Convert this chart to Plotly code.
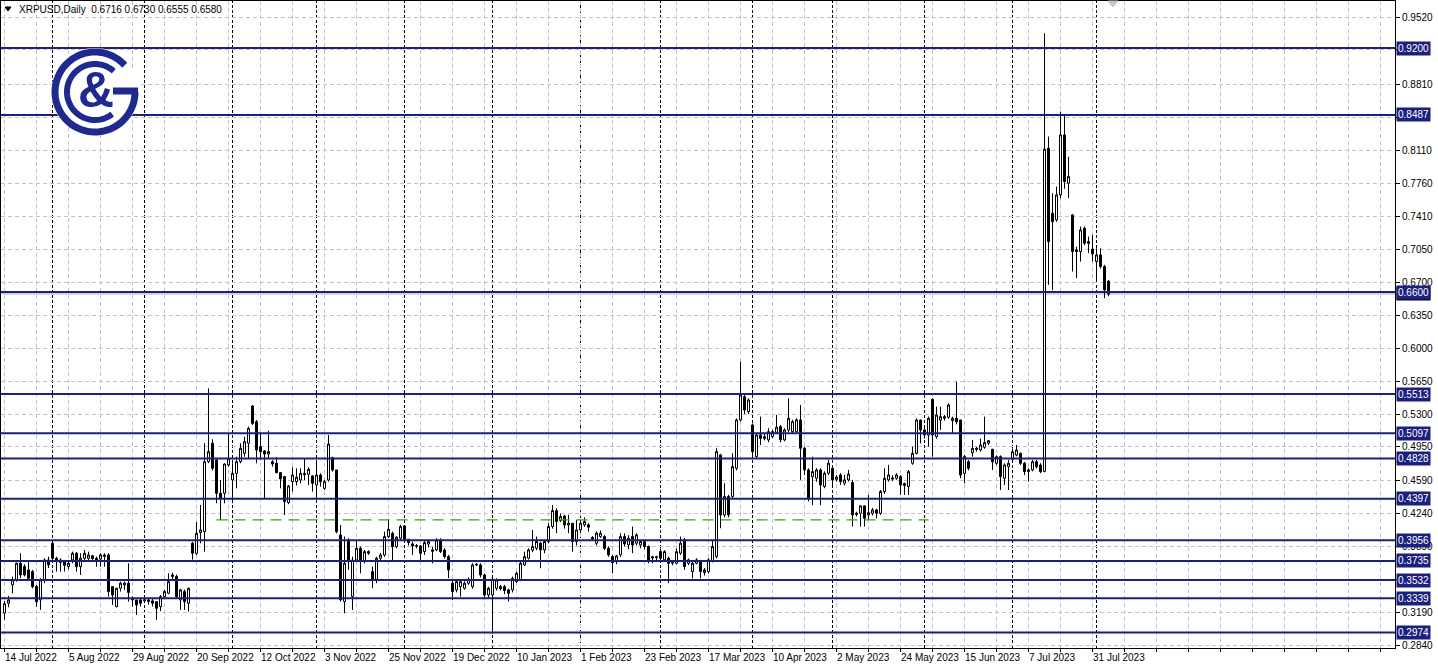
import math
import pandas as pd
import plotly.graph_objects as go

# ---------------- data (XRPUSD daily, weekday bars) ----------------
open_ = [
 .318, .3285, .3480, .3533, .3711, .3675, .3640, .3622, .3462, .3320,
 .3533, .3746, .3924, .3764, .3746, .3728, .3675, .3746, .3817, .3675,
 .3764, .3764, .3790, .3764, .3755, .3799, .3799, .3462, .3249, .3444,
 .3480, .3498, .3340, .3320, .3320, .3310, .3320, .3310, .3302, .3249,
 .3356, .3391, .3569, .3569, .3320, .3409, .3285, .3924, .3817, .4038,
 .4048, .4793, .4989, .4811, .4456, .4456, .4758, .4598, .4669, .4793,
 .4882, .4989, .5386, .5219, .4953, .4907, .4875, .4793, .4776, .4676,
 .4634, .4357, .4580, .4580, .4598, .4669, .4658, .4641, .4545, .4651,
 .4509, .4598, .4836, .4705, .4012, .3302, .3959, .3356, .3746, .3870,
 .3728, .3835, .3622, .3540, .3764, .3799, .3995, .4030, .3888, .3977,
 .4108, .3966, .3917, .3900, .3895, .3835, .3915, .3853, .3853, .3959,
 .3853, .3782, .3498, .3427, .3462, .3444, .3498, .3462, .3693, .3693,
 .3586, .3373, .3373, .3444, .3462, .3462, .3427, .3427, .3515, .3533,
 .3693, .3764, .3850, .3871, .3924, .3853, .3942, .4102, .4272, .4165,
 .4215, .4119, .4137, .3942, .4066, .4120, .4120, .3985, .3924, .3995,
 .3995, .3871, .3782, .3729, .3800, .3995, .3906, .3995, .3924, .3906,
 .3942, .3889, .3780, .3770, .3835, .3747, .3764, .3711, .3711, .3818,
 .3960, .3711, .3622, .3711, .3729, .3640, .3622, .3729, .3782, .4865,
 .4226, .4421, .4421, .4723, .5238, .5486, .5326, .5184, .4847, .5078,
 .5040, .5025, .5060, .5105, .5167, .5025, .5131, .5113, .5113, .5238,
 .4936, .4705, .4634, .4616, .4705, .4528, .4670, .4723, .4605, .4652,
 .4563, .4599, .4570, .4230, .4244, .4322, .4226, .4244, .4279, .4244,
 .4475, .4599, .4620, .4616, .4634, .4560, .4528, .4776, .4882, .5237,
 .5131, .5077, .5457, .5060, .5237, .5255, .5266, .5230, .5255, .5237,
 .4669, .4793, .4889, .4935, .4918, .4946, .4989, .4925, .4776, .4847,
 .4616, .4740, .4818, .4864, .4882, .4776, .4705, .4705, .4793, .4758,
 .4689, .8132, .7440, .7369, .7635, .8274, .7759, .7422, .7050, .7032,
 .7280, .7138, .7057, .6925, .6996, .6872, .6716]

high = [
 .331, .3363, .3569, .3718, .3817, .3700, .3728, .3640, .3480, .3551,
 .3764, .3781, .3942, .3780, .3764, .3746, .3728, .3835, .3830, .3817,
 .3852, .3835, .3800, .3781, .3817, .3817, .3817, .3462, .3450, .3515,
 .3515, .3711, .3356, .3320, .3338, .3338, .3340, .3330, .3302, .3373,
 .3427, .3604, .3610, .3590, .3440, .3430, .3450, .3940, .4150, .4332,
 .4989, .5574, .5031, .4830, .4598, .4776, .5095, .4776, .4846, .4989,
 .5060, .5166, .5397, .5237, .5095, .4917, .5123, .4810, .4840, .4683,
 .4641, .4545, .4733, .4722, .4722, .4829, .4733, .4651, .4811, .4669,
 .4598, .5077, .4846, .4705, .4119, .3995, .3977, .3782, .3959, .3888,
 .3853, .3850, .3675, .3780, .3820, .4048, .4179, .4048, .4000, .4119,
 .4119, .3970, .3940, .3915, .3906, .3950, .3960, .3888, .3977, .3977,
 .3870, .3800, .3533, .3530, .3533, .3520, .3560, .3711, .3711, .3711,
 .3600, .3460, .3560, .3551, .3480, .3480, .3440, .3569, .3620, .3728,
 .3835, .3870, .4066, .3995, .3940, .3960, .4137, .4332, .4297, .4240,
 .4226, .4226, .4137, .4173, .4173, .4200, .4137, .4000, .4050, .4060,
 .4010, .3890, .3800, .3800, .4031, .4031, .4010, .4102, .4031, .3960,
 .3960, .3900, .3790, .3790, .3870, .3850, .3782, .3740, .3870, .3995,
 .3980, .3760, .3729, .3764, .3747, .3660, .3764, .3960, .4936, .4876,
 .4563, .4439, .4883, .5255, .5859, .5522, .5468, .5200, .5096, .5273,
 .5090, .5149, .5131, .5291, .5184, .5149, .5468, .5240, .5255, .5397,
 .4953, .4723, .4847, .4723, .4723, .4690, .4812, .4741, .4650, .4670,
 .4652, .4705, .4599, .4260, .4330, .4330, .4439, .4300, .4290, .4492,
 .4723, .4759, .4650, .4670, .4650, .4570, .4705, .4953, .5255, .5240,
 .5150, .5273, .5468, .5380, .5380, .5290, .5415, .5273, .5645, .5240,
 .4865, .4811, .5024, .4950, .5040, .5273, .5024, .4930, .4860, .4860,
 .4776, .4811, .4935, .4971, .4889, .4790, .4722, .4811, .4811, .4776,
 .9357, .8257, .7653, .7724, .8523, .8487, .8043, .7430, .7085, .7298,
 .7298, .7191, .7209, .7067, .7067, .6890, .6730]

low = [
 .311, .3242, .3391, .3515, .3551, .3570, .3533, .3444, .3249, .3214,
 .3498, .3660, .3746, .3622, .3622, .3622, .3650, .3711, .3622, .3586,
 .3746, .3728, .3740, .3675, .3675, .3675, .3356, .3267, .3240, .3409,
 .3427, .3302, .3249, .3160, .3250, .3285, .3270, .3250, .3107, .3200,
 .3330, .3380, .3540, .3340, .3214, .3214, .3196, .3750, .3800, .3924,
 .3835, .4776, .4700, .4350, .4172, .4350, .4740, .4350, .4509, .4776,
 .4846, .4829, .5184, .4776, .4811, .4403, .4829, .4740, .4669, .4509,
 .4225, .4340, .4474, .4540, .4563, .4598, .4545, .4474, .4438, .4527,
 .4492, .4580, .4687, .4030, .3302, .3178, .3640, .3214, .3728, .3604,
 .3710, .3800, .3444, .3498, .3740, .3780, .3980, .3728, .3870, .3960,
 .3940, .3900, .3800, .3870, .3728, .3800, .3880, .3710, .3840, .3820,
 .3760, .3551, .3320, .3400, .3356, .3430, .3480, .3440, .3680, .3560,
 .3340, .3340, .2960, .3420, .3420, .3380, .3302, .3400, .3500, .3520,
 .3680, .3750, .3830, .3850, .3658, .3818, .3924, .4080, .4031, .4150,
 .4080, .4031, .3835, .3900, .4040, .4100, .4048, .3950, .3900, .3980,
 .3850, .3780, .3605, .3700, .3780, .3890, .3860, .3818, .3900, .3870,
 .3860, .3711, .3711, .3730, .3740, .3730, .3498, .3690, .3700, .3800,
 .3640, .3690, .3551, .3700, .3551, .3580, .3600, .3720, .3764, .4084,
 .4200, .4200, .4400, .4700, .5220, .5300, .5300, .4865, .4829, .4971,
 .5020, .5000, .5042, .5090, .5000, .5010, .5110, .5090, .5090, .4599,
 .4650, .4370, .4330, .4580, .4330, .4510, .4650, .4545, .4580, .4545,
 .4540, .4580, .4102, .4210, .4102, .4102, .4173, .4220, .4190, .4226,
 .4450, .4580, .4590, .4600, .4439, .4439, .4439, .4760, .4870, .4989,
 .5040, .4953, .4847, .5040, .5131, .5230, .5250, .5095, .5190, .4616,
 .4563, .4700, .4847, .4900, .4900, .4930, .4970, .4705, .4760, .4491,
 .4545, .4491, .4800, .4850, .4758, .4651, .4580, .4690, .4720, .4670,
 .4680, .6677, .6621, .7350, .7600, .7700, .7600, .6819, .6748, .6925,
 .7100, .7014, .6925, .6730, .6850, .6535, .6555]

close = [
 .328, .3320, .3533, .3711, .3586, .3586, .3551, .3462, .3302, .3533,
 .3746, .3693, .3764, .3740, .3720, .3690, .3711, .3817, .3675, .3764,
 .3817, .3799, .3760, .3740, .3799, .3785, .3409, .3373, .3444, .3498,
 .3500, .3400, .3320, .3267, .3285, .3320, .3305, .3285, .3231, .3356,
 .3409, .3515, .3586, .3356, .3427, .3302, .3444, .3817, .4030, .4066,
 .4793, .4900, .4722, .4456, .4403, .4768, .4829, .4669, .4793, .4935,
 .5006, .5148, .5201, .4917, .4900, .4875, .4900, .4768, .4676, .4609,
 .4367, .4534, .4651, .4627, .4669, .4655, .4712, .4563, .4651, .4580,
 .4580, .4981, .4705, .4048, .3320, .3711, .3728, .3746, .3870, .3728,
 .3835, .3817, .3533, .3764, .3799, .3995, .4073, .3888, .3988, .4101,
 .3966, .3931, .3895, .3895, .3817, .3931, .3942, .3840, .3959, .3835,
 .3782, .3640, .3409, .3515, .3515, .3498, .3540, .3693, .3700, .3586,
 .3373, .3444, .3540, .3533, .3440, .3420, .3391, .3551, .3604, .3711,
 .3782, .3853, .3889, .3942, .3853, .3942, .4102, .4272, .4155, .4208,
 .4119, .4137, .3942, .4066, .4137, .4155, .4095, .3970, .4031, .4031,
 .3871, .3800, .3718, .3789, .3995, .3917, .3977, .3906, .4013, .3942,
 .3889, .3729, .3770, .3780, .3764, .3835, .3711, .3729, .3835, .3924,
 .3676, .3747, .3711, .3747, .3622, .3612, .3747, .3889, .4900, .4226,
 .4421, .4226, .4741, .5238, .5504, .5344, .5451, .4900, .5078, .5042,
 .5060, .5113, .5113, .5160, .5025, .5131, .5255, .5220, .5238, .4936,
 .4705, .4403, .4687, .4705, .4545, .4670, .4776, .4599, .4630, .4581,
 .4599, .4661, .4226, .4244, .4322, .4190, .4250, .4279, .4244, .4475,
 .4616, .4652, .4610, .4652, .4545, .4540, .4687, .4882, .5237, .5131,
 .5077, .5255, .5077, .5290, .5273, .5273, .5397, .5255, .5219, .4651,
 .4847, .4722, .4935, .4925, .4971, .4996, .5017, .4793, .4847, .4634,
 .4758, .4776, .4900, .4918, .4776, .4687, .4690, .4793, .4740, .4687,
 .8122, .7138, .7351, .7635, .8274, .7777, .7830, .7032, .7032, .7262,
 .7120, .7120, .7007, .6996, .6872, .6623, .6580]

first_date = "2022-07-14"
date_labels = ["14 Jul 2022", "5 Aug 2022", "29 Aug 2022", "20 Sep 2022", "12 Oct 2022",
               "3 Nov 2022", "25 Nov 2022", "19 Dec 2022", "10 Jan 2023", "1 Feb 2023",
               "23 Feb 2023", "17 Mar 2023", "10 Apr 2023", "2 May 2023", "24 May 2023",
               "15 Jun 2023", "7 Jul 2023", "31 Jul 2023"]
label_step = 16

y_ticks = [0.9520, 0.9180, 0.8810, 0.8460, 0.8110, 0.7760, 0.7410, 0.7050, 0.6700, 0.6350,
           0.6000, 0.5650, 0.5300, 0.4950, 0.4590, 0.4240, 0.3890, 0.3540, 0.3190, 0.2840]
hidden_ticks = [0.9180, 0.8460, 0.3540]   # covered by level boxes in the original

levels = [0.9200, 0.8487, 0.6600, 0.5513, 0.5097, 0.4828, 0.4397, 0.3956, 0.3735, 0.3532, 0.3339, 0.2974]
support_level = 0.4172
support_start, support_end = 53, 231
last_price = 0.6580
title_text = "XRPUSD,Daily  0.6716 0.6730 0.6555 0.6580"

# ---------------- layout constants ----------------
W, H = 1438, 668
ML, MR, MT, MB = 1, 43, 1, 20
PW, PH = W - ML - MR, H - MT - MB
BAR_PX = 4.0
X0 = -(4.5 - ML) / BAR_PX           # bar 0 centred at pixel 4.5
X1 = X0 + PW / BAR_PX
NAVY = "#1b1f7e"
LOGO = "#1e2a8e"
GRID = "#c3c3c3"
FONT = "Liberation Sans, Arial, sans-serif"
FS = 10

n = len(close)
xs = list(range(n))
dates = pd.bdate_range(first_date, periods=n)
month_starts = [i for i in range(1, n) if dates[i].month != dates[i - 1].month]


def pxx(px):
    return (px - ML) / PW


def pxy(py):
    return 1 - (py - MT) / PH


fig = go.Figure()
fig.add_trace(go.Candlestick(
    x=xs, open=open_, high=high, low=low, close=close,
    increasing=dict(line=dict(color="black", width=1), fillcolor="white"),
    decreasing=dict(line=dict(color="black", width=1), fillcolor="black"),
    whiskerwidth=0, hoverinfo="skip", showlegend=False))

shapes = []
for i in month_starts:
    shapes.append(dict(type="line", xref="x", yref="paper", x0=i, x1=i, y0=0, y1=1,
                       line=dict(color="black", width=1, dash="3px,2px"), layer="between"))
shapes.append(dict(type="line", xref="paper", yref="y", x0=0, x1=1, y0=last_price, y1=last_price,
                   line=dict(color="#a8a8a8", width=1), layer="between"))
for lv in levels:
    shapes.append(dict(type="line", xref="paper", yref="y", x0=0, x1=1, y0=lv, y1=lv,
                       line=dict(color=NAVY, width=2), layer="above"))
shapes.append(dict(type="line", xref="x", yref="y", x0=support_start, x1=support_end,
                   y0=support_level, y1=support_level,
                   line=dict(color="#3f9b1e", width=1.3, dash="11px,7px"), layer="above"))

# logo
cx, cy = 95, 92
shapes.append(dict(type="circle", xref="paper", yref="paper",
                   x0=pxx(cx - 44), x1=pxx(cx + 44), y0=pxy(cy + 44), y1=pxy(cy - 44),
                   fillcolor="white", line=dict(width=0), layer="above"))


def arc(r, a0, a1, steps=80):
    pts = []
    for k in range(steps + 1):
        a = math.radians(a0 + (a1 - a0) * k / steps)
        pts.append((pxx(cx + r * math.cos(a)), pxy(cy - r * math.sin(a))))
    return "M " + " L ".join(f"{x:.5f},{y:.5f}" for x, y in pts)


shapes.append(dict(type="path", xref="paper", yref="paper", path=arc(40, 42, 360),
                   line=dict(color=LOGO, width=7), layer="above"))
shapes.append(dict(type="path", xref="paper", yref="paper", path=arc(28, 48, 308),
                   line=dict(color=LOGO, width=6), layer="above"))
shapes.append(dict(type="line", xref="paper", yref="paper",
                   x0=pxx(cx + 18), x1=pxx(cx + 43), y0=pxy(cy - 1), y1=pxy(cy - 1),
                   line=dict(color=LOGO, width=7), layer="above"))
shapes.append(dict(type="path", xref="paper", yref="paper",
                   path=f"M {pxx(5)},{pxy(7)} L {pxx(11)},{pxy(7)} L {pxx(8)},{pxy(11)} Z",
                   fillcolor="black", line=dict(color="black", width=1), layer="above"))
shapes.append(dict(type="path", xref="paper", yref="paper",
                   path=f"M {pxx(1108)},{pxy(1)} L {pxx(1118)},{pxy(1)} L {pxx(1113)},{pxy(7)} Z",
                   fillcolor="#c8c8c8", line=dict(color="#c8c8c8", width=1), layer="above"))

annotations = []
annotations.append(dict(xref="paper", yref="paper", x=pxx(cx + 1), y=pxy(cy - 2),
                        text="<b>&amp;</b>", showarrow=False, xanchor="center", yanchor="middle",
                        font=dict(family="Liberation Sans", size=50, color=LOGO)))
annotations.append(dict(xref="paper", yref="paper", x=pxx(17), y=pxy(2), text=title_text,
                        showarrow=False, xanchor="left", yanchor="top",
                        font=dict(family=FONT, size=FS, color="black")))
for k, lab in enumerate(date_labels):
    annotations.append(dict(xref="x", yref="paper", x=k * label_step, y=0, text=lab,
                            showarrow=False, xanchor="left", yanchor="top", xshift=-2, yshift=-2,
                            font=dict(family=FONT, size=FS, color="black")))
annotations.append(dict(xref="paper", yref="y", x=1, y=last_price, text=f"{last_price:.4f}",
                        showarrow=False, xanchor="left", yanchor="middle", xshift=1,
                        bgcolor="black", borderpad=1,
                        font=dict(family=FONT, size=FS, color="white")))
for lv in levels:
    annotations.append(dict(xref="paper", yref="y", x=1, y=lv, text=f"{lv:.4f}",
                            showarrow=False, xanchor="left", yanchor="middle", xshift=1,
                            bgcolor=NAVY, borderpad=1,
                            font=dict(family=FONT, size=FS, color="white")))

fig.update_layout(
    width=W, height=H, margin=dict(l=ML, r=MR, t=MT, b=MB),
    paper_bgcolor="white", plot_bgcolor="white", showlegend=False,
    boxgap=0.5, boxgroupgap=0,
    shapes=shapes, annotations=annotations,
    xaxis=dict(range=[X0, X1], tickvals=list(range(0, 350, 8)),
               showticklabels=False, ticks="outside", ticklen=3, tickcolor="black",
               showgrid=True, gridcolor=GRID, griddash="4px,3px", gridwidth=1,
               showline=True, linecolor="black", linewidth=1, mirror=True,
               zeroline=False, rangeslider=dict(visible=False), fixedrange=True),
    yaxis=dict(range=[0.2808, 0.9701], side="right", tickvals=y_ticks,
               ticktext=["" if v in hidden_ticks else f"{v:.4f}" for v in y_ticks],
               ticks="outside", ticklen=4,
               tickcolor="black", tickfont=dict(family=FONT, size=FS, color="black"),
               showgrid=True, gridcolor=GRID, griddash="4px,3px", gridwidth=1,
               showline=True, linecolor="black", linewidth=1, mirror=True,
               zeroline=False, fixedrange=True),
)

fig.write_html("out.html", config={"displayModeBar": False, "staticPlot": True},
               post_script="document.body.style.margin='0';document.body.style.overflow='hidden';")
